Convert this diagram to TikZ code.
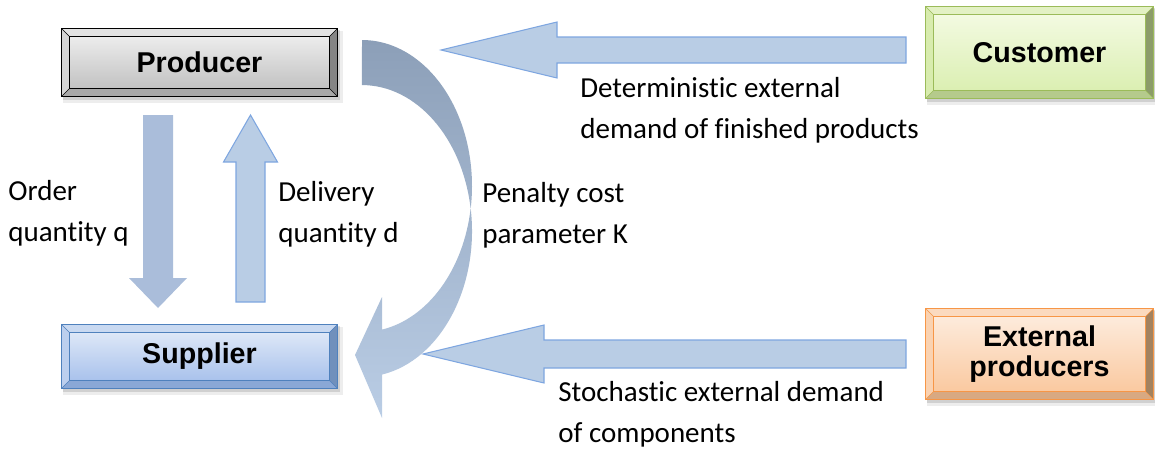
\documentclass[tikz,border=0pt]{standalone}
\usepackage{fontspec}
\setmainfont{Carlito}[Ligatures=NoCommon]
\newfontfamily\boxfont{Liberation Sans}
\usepackage{tikz}
\usetikzlibrary{calc,backgrounds}
\usepackage{xcolor}

\definecolor{prodfaceA}{HTML}{ECECEC}
\definecolor{prodfaceB}{HTML}{C2C2C2}
\definecolor{prodtop}{HTML}{E2E2E2}
\definecolor{prodleft}{HTML}{D6D6D6}
\definecolor{prodright}{HTML}{858585}
\definecolor{prodbottom}{HTML}{A8A8A8}
\definecolor{prodline}{HTML}{000000}
\definecolor{suppfaceA}{HTML}{DDE7F7}
\definecolor{suppfaceB}{HTML}{A9C2EC}
\definecolor{supptop}{HTML}{C9D9F1}
\definecolor{suppleft}{HTML}{BCCFEE}
\definecolor{suppright}{HTML}{7090BC}
\definecolor{suppbottom}{HTML}{8AA8D6}
\definecolor{suppline}{HTML}{4F81BD}
\definecolor{custfaceA}{HTML}{F3FAE1}
\definecolor{custfaceB}{HTML}{DBEFB2}
\definecolor{custtop}{HTML}{E3F1C4}
\definecolor{custleft}{HTML}{D8ECAE}
\definecolor{custright}{HTML}{8C9C6A}
\definecolor{custbottom}{HTML}{B5CA8C}
\definecolor{custline}{HTML}{9BBB59}
\definecolor{extfaceA}{HTML}{FDEBDC}
\definecolor{extfaceB}{HTML}{FAC9A0}
\definecolor{exttop}{HTML}{FBDABF}
\definecolor{extleft}{HTML}{FAD2B1}
\definecolor{extright}{HTML}{A3825F}
\definecolor{extbottom}{HTML}{D8A982}
\definecolor{extline}{HTML}{F79646}
\definecolor{arrowfill}{HTML}{B9CDE5}
\definecolor{arrowline}{HTML}{7EA6E0}
\definecolor{orderfill}{HTML}{AABDDA}
\definecolor{curvetop}{HTML}{8C9FB8}
\definecolor{curvebottom}{HTML}{BACDE5}

% bevelled box behind a named node
\newcommand{\bevelbox}[2]{%
\begin{scope}[on background layer]
\fill[black,opacity=.07] ($(#1.north west)+(1,2)$) rectangle ($(#1.south east)+(6,7)$);
\fill[black,opacity=.12] ($(#1.north west)+(1,1)$) rectangle ($(#1.south east)+(3,4)$);
\fill[#2top] (#1.north west) -- (#1.north east) -- ($(#1.north east)+(-8,8)$) -- ($(#1.north west)+(8,8)$) -- cycle;
\fill[#2left] (#1.north west) -- ($(#1.north west)+(8,8)$) -- ($(#1.south west)+(8,-8)$) -- (#1.south west) -- cycle;
\fill[#2right] (#1.north east) -- (#1.south east) -- ($(#1.south east)+(-8,-8)$) -- ($(#1.north east)+(-8,8)$) -- cycle;
\fill[#2bottom] (#1.south west) -- (#1.south east) -- ($(#1.south east)+(-8,-8)$) -- ($(#1.south west)+(8,-8)$) -- cycle;
\shade[top color=#2faceA,bottom color=#2faceB] ($(#1.north west)+(8,8)$) rectangle ($(#1.south east)+(-8,-8)$);
\draw[#2line,line width=0.3pt] ($(#1.north west)+(8,8)$) rectangle ($(#1.south east)+(-8,-8)$);
\draw[#2line,line width=0.3pt] (#1.north west) -- ++(8,8) (#1.north east) -- ++(-8,8) (#1.south west) -- ++(8,-8) (#1.south east) -- ++(-8,-8);
\draw[#2line,line width=0.9pt] (#1.north west) rectangle (#1.south east);
\end{scope}}

\begin{document}
\begin{tikzpicture}[x=0.02cm,y=-0.02cm,
  boxnode/.style={inner sep=0pt, align=center, font=\boxfont\bfseries\fontsize{16.3}{17.5}\selectfont},
  lbl/.style={anchor=base west, inner sep=0pt, align=left, font=\fontsize{16.5}{23.2}\selectfont},
  lightarrow/.style={fill=arrowfill, draw=arrowline, line width=0.6pt},
  darkarrow/.style={fill=orderfill}]

\useasboundingbox (0,0) rectangle (1155,450);

%Producer
\node[boxnode, minimum width=5.5cm, minimum height=1.34cm] (producer) at (199.5,62.5) {Producer};
\bevelbox{producer}{prod}

%Supplier
\node[boxnode, minimum width=5.5cm, minimum height=1.26cm] (supplier) at (199.5,356.5) {Supplier};
\bevelbox{supplier}{supp}

%Customer
\node[boxnode, minimum width=4.54cm, minimum height=1.82cm] (customer) at (1039.5,52.5) {Customer};
\bevelbox{customer}{cust}

%External producers
\node[boxnode, minimum width=4.54cm, minimum height=1.8cm] (external) at (1039.5,354) {External\\producers};
\bevelbox{external}{ext}

%Arrow ends
\coordinate (demtail) at (906,50);
\coordinate (demtip) at (441,50);
\coordinate (comptail) at (906,354);
\coordinate (comptip) at (423,354);
\coordinate (ordtail) at (158,115);
\coordinate (ordtip) at (158,308);
\coordinate (deltail) at (250.5,302);
\coordinate (deltip) at (250.5,115);

%Demand of finished products
\filldraw[lightarrow] (demtip) -- ++(116,-28) -- ++(0,15) -- ($(demtail)+(0,-13)$) -- ++(0,26) -- ($(demtip)+(116,13)$) -- ++(0,15) -- cycle;

%Demand of components
\filldraw[lightarrow] (comptip) -- ++(121,-29) -- ++(0,15) -- ($(comptail)+(0,-14)$) -- ++(0,28) -- ($(comptip)+(121,14)$) -- ++(0,15) -- cycle;

%Order
\fill[darkarrow] (ordtip) -- ++(-29,-30) -- ++(14,0) -- ($(ordtail)+(-15,0)$) -- ++(30,0) -- ($(ordtip)+(15,-30)$) -- ++(14,0) -- cycle;

%Delivery
\filldraw[lightarrow] (deltip) -- ++(-27,47) -- ++(12.5,0) -- ($(deltail)+(-14.5,0)$) -- ++(29,0) -- ($(deltip)+(14.5,47)$) -- ++(12.5,0) -- cycle;

%Penalty
\shade[top color=curvetop, middle color=curvetop!45!curvebottom, bottom color=curvebottom]
  (362,40) arc[start angle=-90, end angle=8.87, x radius=110, y radius=146]
  arc[start angle=-8.87, end angle=79.5, x radius=110, y radius=146]
  -- (382,418) -- (355,355) -- (382,297) -- (382,329.6)
  arc[start angle=79.5, end angle=8.87, x radius=110, y radius=146]
  arc[start angle=-8.87, end angle=-90, x radius=110, y radius=146] -- cycle;

%Labels
\node[lbl] (ordlbl) at (8,241) {Order\\quantity q};
\node[lbl] (dellbl) at (278,242) {Delivery\\quantity d};
\node[lbl] (penlbl) at (482,243) {Penalty cost\\parameter K};
\node[lbl] (demlbl) at (580,138) {Deterministic external\\demand of finished products};
\node[lbl] (complbl) at (558,442) {Stochastic external demand\\of components};
\end{tikzpicture}
\end{document}
